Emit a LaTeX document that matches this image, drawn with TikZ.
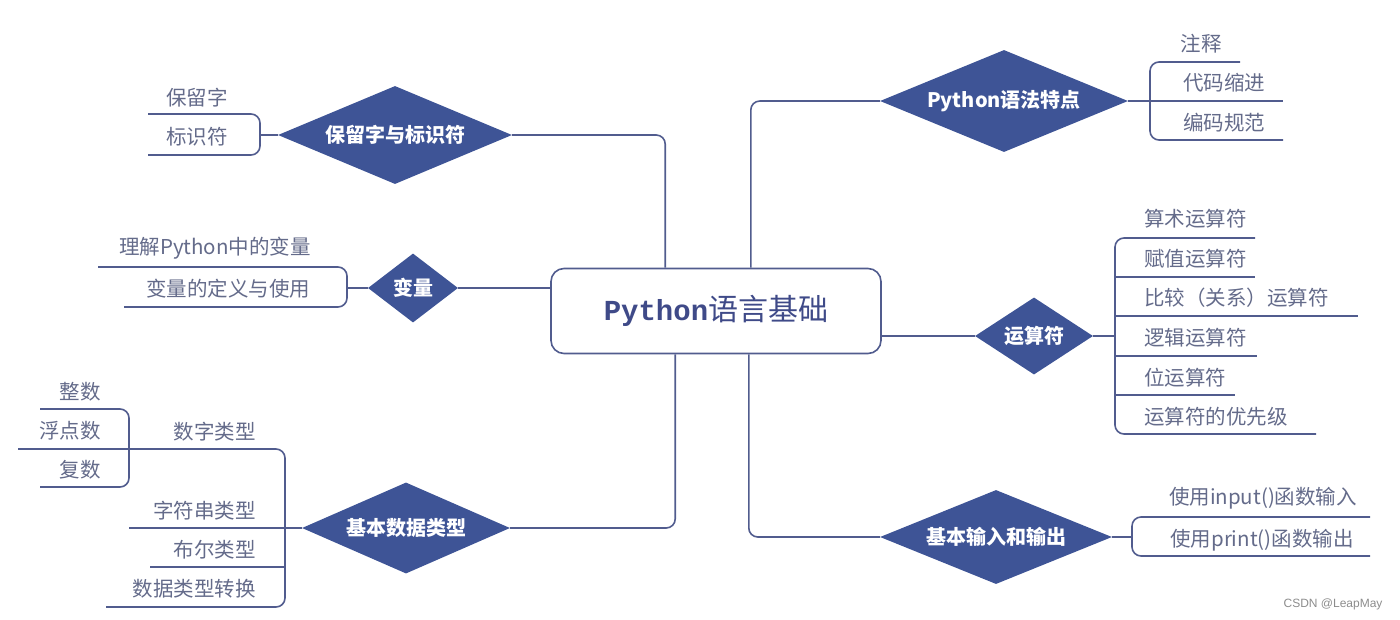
\documentclass[tikz,border=0pt]{standalone}
\usepackage{fontspec}
\setmainfont{Noto Sans CJK SC}
\newfontfamily\titlemono{Liberation Mono}
\newfontfamily\wmfont{Liberation Sans}
\usetikzlibrary{shapes.geometric}
\definecolor{linec}{HTML}{515C8E}
\definecolor{dfill}{HTML}{3E5496}
\definecolor{leafc}{HTML}{646B8A}
\definecolor{titlec}{HTML}{3F4A88}
\tikzset{
  x=1pt,y=-1pt,
  conn/.style={draw=linec, line width=1.6pt, rounded corners=9},
  dia/.style={shape=diamond, fill=dfill, inner sep=0pt, text=white,
    font=\fontsize{20}{24}\selectfont\bfseries},
  leaf/.style={text=leafc, inner sep=0pt, font=\fontsize{20.5}{24}\selectfont},
}
\begin{document}
\begin{tikzpicture}
\useasboundingbox (0,0) rectangle (1400,619);
% root
\node[draw=linec, line width=1.6pt, rounded corners=13, minimum width=330, minimum height=85, text=titlec]
  (root) at (716,311) {{\titlemono\bfseries\fontsize{29}{32}\selectfont Python}{\fontsize{30}{32}\selectfont 语言基础}};
% diamonds
\node[dia, shape aspect=2.39, minimum width=234, minimum height=98] (d1) at (395,135) {保留字与标识符};
\node[dia, shape aspect=1.3, minimum width=90, minimum height=69] (d2) at (413,288) {变量};
\node[dia, shape aspect=2.29, minimum width=208, minimum height=91] (d3) at (406,528) {基本数据类型};
\node[dia, shape aspect=2.43, minimum width=248, minimum height=102] (d4) at (1004,101) {Python语法特点};
\node[dia, shape aspect=1.53, minimum width=118, minimum height=77] (d5) at (1034,336) {运算符};
\node[dia, shape aspect=2.47, minimum width=232, minimum height=94] (d6) at (996,537) {基本输入和输出};
% root connectors
\draw[conn] (d1.east) -| ([xshift=115]root.north west);
\draw[conn] (d2.east) -- (d2.east -| root.west);
\draw[conn] (d3.east) -| ([xshift=125]root.south west);
\draw[conn] (d4.west) -| ([xshift=-131]root.north east);
\draw[conn] (d5.west) -- (d5.west -| root.east);
\draw[conn] (d6.west) -| ([xshift=-133]root.south east);

% ---- 保留字与标识符
\node[leaf] (a1) at (197,98) {保留字};
\node[leaf] (a2) at (197,137) {标识符};
\coordinate (ab) at (260,135);
\draw[conn] (148,114) -- (260,114) -- (260,155) -- (148,155);
\draw[conn] (d1.west) -- (ab);

% ---- 变量
\node[leaf] (b1) at (215,248) {理解Python中的变量};
\node[leaf] (b2) at (228,289) {变量的定义与使用};
\coordinate (bb) at (347,288);
\draw[conn] (98,267) -- (347,267) -- (347,307) -- (124,307);
\draw[conn] (d2.west) -- (bb);

% ---- 基本数据类型
\node[leaf, anchor=east] (c1) at (256,432) {数字类型};
\node[leaf, anchor=east] (c2) at (256,511) {字符串类型};
\node[leaf, anchor=east] (c3) at (256,550) {布尔类型};
\node[leaf, anchor=east] (c4) at (256,589) {数据类型转换};
\node[leaf, anchor=east] (c11) at (101,392) {整数};
\node[leaf, anchor=east] (c12) at (101,431) {浮点数};
\node[leaf, anchor=east] (c13) at (101,470) {复数};
\draw[conn] (18,449) -- (285,449) -- (285,607) -- (106,607);
\draw[conn] (40,409) -- (129,409) -- (129,487) -- (40,487);
\coordinate (cb) at (129,528);
\draw[conn] (d3.west) -- (cb);
\draw[conn] (150,567) -- (285,567);

% ---- Python语法特点
\node[leaf] (e1) at (1201,44) {注释};
\node[leaf] (e2) at (1224,83) {代码缩进};
\node[leaf] (e3) at (1224,123) {编码规范};
\coordinate (eb) at (1283,101);
\draw[conn] (1240,62) -- (1150,62) -- (1150,140) -- (1283,140);
\draw[conn] (d4.east) -- (eb);

% ---- 运算符
\node[leaf, anchor=west] (f1) at (1144,219) {算术运算符};
\node[leaf, anchor=west] (f2) at (1144,259) {赋值运算符};
\node[leaf, anchor=west] (f3) at (1144,298) {比较（关系）运算符};
\node[leaf, anchor=west] (f4) at (1144,338) {逻辑运算符};
\node[leaf, anchor=west] (f5) at (1144,378) {位运算符};
\node[leaf, anchor=west] (f6) at (1144,417) {运算符的优先级};
\coordinate (fb) at (1115,336);
\draw[conn] (1255,238) -- (1115,238) -- (1115,434) -- (1316,434);
\draw[conn] (1115,277) -- (1255,277);
\draw[conn] (1115,316) -- (1358,316);
\draw[conn] (1115,356) -- (1257,356);
\draw[conn] (1115,395) -- (1235,395);
\draw[conn] (d5.east) -- (fb);

% ---- 基本输入和输出
\node[leaf] (g1) at (1263,498) {使用input()函数输入};
\node[leaf] (g2) at (1262,540) {使用print()函数输出};
\coordinate (gb) at (1132,537);
\draw[conn] (1370,517) -- (1132,517) -- (1132,556) -- (1370,556);
\draw[conn] (d6.east) -- (gb);

% watermark
\node[text=black!45, font=\wmfont\fontsize{12}{14}\selectfont, anchor=east] (wm) at (1386,604) {CSDN @LeapMay};
\end{tikzpicture}
\end{document}
